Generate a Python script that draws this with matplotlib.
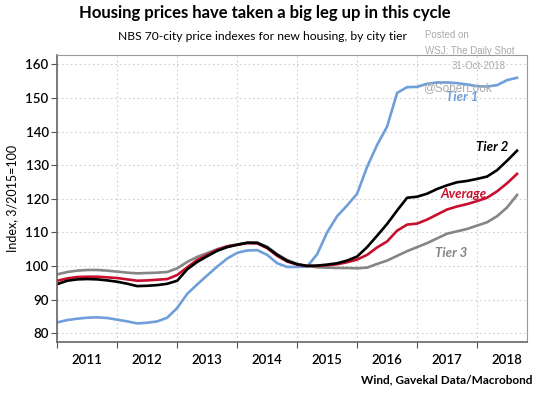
import numpy as np
import matplotlib
matplotlib.use("Agg")
from matplotlib import pyplot as plt

# bi-monthly points, 2011-01 .. 2018-09
months = 2011 + np.arange(47) / 6.0

tier1 = [83.2, 83.9, 84.3, 84.6, 84.7, 84.5, 84.0, 83.5, 82.9, 83.1,
         83.5, 84.6, 87.5, 91.7, 94.5, 97.2, 99.8, 102.2, 103.9, 104.6,
         104.7, 103.3, 100.8, 99.7, 99.7, 99.8, 103.5, 110.0, 114.8, 118.0,
         121.5, 129.5, 136.0, 141.5, 151.5, 153.2, 153.3, 154.2, 154.6, 154.6,
         154.4, 154.0, 153.5, 153.4, 153.8, 155.3, 156.0]
tier2 = [94.6, 95.6, 96.0, 96.1, 96.0, 95.7, 95.3, 94.7, 94.0, 94.1,
         94.3, 94.7, 95.6, 99.0, 101.2, 102.9, 104.5, 105.6, 106.3, 106.9,
         106.9, 105.5, 103.3, 101.5, 100.5, 100.0, 100.1, 100.4, 100.8, 101.6,
         102.8, 105.6, 109.0, 112.5, 116.5, 120.3, 120.6, 121.5, 122.9, 124.0,
         124.9, 125.3, 125.9, 126.6, 128.5, 131.3, 134.3]
average = [95.6, 96.3, 96.7, 96.8, 96.8, 96.6, 96.4, 96.0, 95.6, 95.7,
           95.9, 96.1, 97.3, 99.6, 101.8, 103.3, 104.8, 105.8, 106.3, 106.8,
           106.7, 105.3, 103.0, 101.3, 100.4, 100.0, 100.0, 100.2, 100.5, 101.1,
           101.9, 103.3, 105.5, 107.3, 110.5, 112.3, 112.6, 113.8, 115.3, 116.8,
           117.7, 118.4, 119.3, 120.3, 122.2, 124.6, 127.4]
tier3 = [97.5, 98.2, 98.6, 98.8, 98.8, 98.6, 98.3, 98.0, 97.8, 97.9,
         98.0, 98.2, 99.3, 101.2, 102.7, 103.8, 105.0, 105.9, 106.4, 106.9,
         106.9, 105.7, 103.5, 101.8, 100.6, 100.0, 99.6, 99.5, 99.4, 99.4,
         99.3, 99.5, 100.6, 101.6, 103.0, 104.4, 105.6, 106.8, 108.2, 109.6,
         110.3, 111.0, 112.0, 113.0, 114.8, 117.4, 121.1]

years = list(range(2011, 2019))
yticks = list(range(80, 161, 10))

BLUE = "#6f9fd8"
RED = "#c8102e"
GREY = "#858585"

plt.rcParams['font.family'] = ['Lato', 'DejaVu Sans']

fig = plt.figure(figsize=(5.4, 3.98), dpi=100)
ax = fig.add_axes([0.1056, 0.141, 0.870, 0.721])

ax.plot(months, tier3, color=GREY, lw=1.9)
ax.plot(months, tier1, color=BLUE, lw=1.9)
ax.plot(months, average, color=RED, lw=1.9)
ax.plot(months, tier2, color="black", lw=1.9)

ax.set_xlim(2010.995, 2018.83)
ax.set_ylim(77.4, 162.8)

ax.set_xticks(years)
ax.set_xticklabels([])
ax.set_xticks([y + 0.5 for y in years], minor=True)
ax.set_xticklabels([str(y) for y in years], minor=True, fontsize=9.5, weight='semibold')
ax.tick_params(axis='x', which='major', length=4, color='#555555', direction='out')
ax.tick_params(axis='x', which='minor', length=0, pad=9)
ax.set_yticks(yticks)
ax.set_yticklabels([str(v) for v in yticks], fontsize=9.5, weight='semibold')
ax.tick_params(axis='y', length=4, color='#555555', pad=2)

ax.grid(axis='both', which='major', color='#cfcfcf', linestyle=(0, (1.5, 2.5)), lw=0.8)
for s in ['top', 'right']:
    ax.spines[s].set_color('#999999')
for s in ['left', 'bottom']:
    ax.spines[s].set_color('#666666')
    ax.spines[s].set_linewidth(1.2)

ax.set_ylabel("Index, 3/2015=100", fontsize=9, labelpad=5)

ax.text(2017.75, 150.4, "Tier 1", color=BLUE, fontsize=9.5, style='italic', weight='bold', ha='center', va='center')
ax.text(2018.25, 135.5, "Tier 2", color='black', fontsize=9.5, style='italic', weight='bold', ha='center', va='center')
ax.text(2017.78, 121.4, "Average", color=RED, fontsize=9.5, style='italic', weight='bold', ha='center', va='center')
ax.text(2017.57, 103.8, "Tier 3", color=GREY, fontsize=9.5, style='italic', weight='bold', ha='center', va='center')

fig.text(0.49, 0.968, "Housing prices have taken a big leg up in this cycle",
         fontsize=12, weight='bold', ha='center', va='center')
fig.text(0.487, 0.908, "NBS 70-city price indexes for new housing, by city tier",
         fontsize=8.7, ha='center', va='center')
fig.text(0.987, 0.045, "Wind, Gavekal Data/Macrobond", fontsize=8.5, weight='bold',
         ha='right', va='center')

wm = dict(color='#aaaaaa', fontsize=7, family='Liberation Sans')
fig.text(0.787, 0.912, "Posted on", ha='left', va='center', **wm)
fig.text(0.787, 0.872, "WSJ: The Daily Shot", ha='left', va='center', **wm)
fig.text(0.937, 0.834, "31-Oct-2018", ha='right', va='center', **wm)
fig.text(0.783, 0.779, "@SoberLook", ha='left', va='center', color='#aaaaaa',
         fontsize=8.5, family='Liberation Sans')

fig.savefig("out.png", dpi=100)
